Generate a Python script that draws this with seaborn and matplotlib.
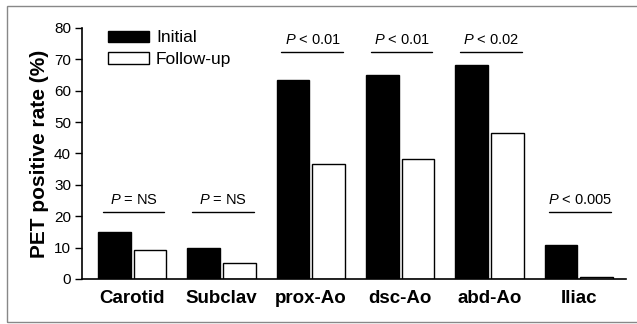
"""PET positive rate by arterial segment, initial vs follow-up."""

import matplotlib

matplotlib.use("Agg")
import matplotlib.pyplot as plt
import numpy as np
import pandas as pd
import seaborn as sns
from matplotlib.patches import Rectangle

segments = ["Carotid", "Subclav", "prox-Ao", "dsc-Ao", "abd-Ao", "Iliac"]
initial = [15.0, 10.0, 63.3, 65.0, 68.3, 10.8]
follow_up = [9.2, 5.0, 36.7, 38.2, 46.6, 0.7]
p_labels = ["= NS", "= NS", "< 0.01", "< 0.01", "< 0.02", "< 0.005"]
p_line_y = [21.3, 21.3, 72.3, 72.3, 72.3, 21.3]

df = pd.DataFrame(
    {
        "segment": segments * 2,
        "rate": initial + follow_up,
        "visit": ["Initial"] * len(segments) + ["Follow-up"] * len(segments),
    }
)

sns.set_style("ticks")
plt.rcParams["font.family"] = ["Liberation Sans", "DejaVu Sans"]
plt.rcParams["mathtext.fontset"] = "custom"
plt.rcParams["mathtext.it"] = "Liberation Sans:italic"
plt.rcParams["mathtext.rm"] = "Liberation Sans"
for k in ("text.color", "axes.labelcolor", "xtick.color", "ytick.color"):
    plt.rcParams[k] = "black"

fig = plt.figure(figsize=(6.37, 3.24), dpi=100)
ax = fig.add_axes([0.129, 0.139, 0.854, 0.775])

sns.barplot(
    data=df,
    x="segment",
    y="rate",
    hue="visit",
    order=segments,
    hue_order=["Initial", "Follow-up"],
    palette={"Initial": "black", "Follow-up": "white"},
    edgecolor="black",
    linewidth=1.0,
    width=0.8,
    gap=0.08,
    ax=ax,
)

# significance bars
for i, (lab, yl) in enumerate(zip(p_labels, p_line_y)):
    ax.plot([i - 0.33, i + 0.36], [yl, yl], color="black", lw=1.0)
    ax.text(i + 0.02, yl + 1.6, rf"$P$ {lab}", ha="center", va="bottom",
            fontsize=10.5)

ax.set_ylim(0, 80)
ax.set_xlim(-0.56, 5.53)
ax.set_yticks(np.arange(0, 81, 10))
ax.tick_params(axis="y", labelsize=11, length=5, width=1.0, direction="out",
               pad=3)
ax.tick_params(axis="x", length=0, labelsize=13.5, pad=8)
for lbl in ax.get_xticklabels():
    lbl.set_fontweight("bold")
ax.set_xlabel("")
ax.set_ylabel("PET positive rate (%)", fontsize=15, fontweight="bold",
              labelpad=4)
sns.despine(ax=ax)
for s in ("left", "bottom"):
    ax.spines[s].set_linewidth(1.2)
    ax.spines[s].set_color("black")

ax.legend(
    loc="upper left",
    bbox_to_anchor=(0.035, 1.018),
    frameon=False,
    fontsize=12.5,
    handlelength=2.35,
    handleheight=0.63,
    handletextpad=0.4,
    labelspacing=0.4,
    borderaxespad=0.0,
)

fig.patches.append(
    Rectangle((0.011, 0.006), 1.0, 0.975, transform=fig.transFigure,
              fill=False, edgecolor="#888888", linewidth=1.0)
)

fig.savefig("out.png", dpi=100)
